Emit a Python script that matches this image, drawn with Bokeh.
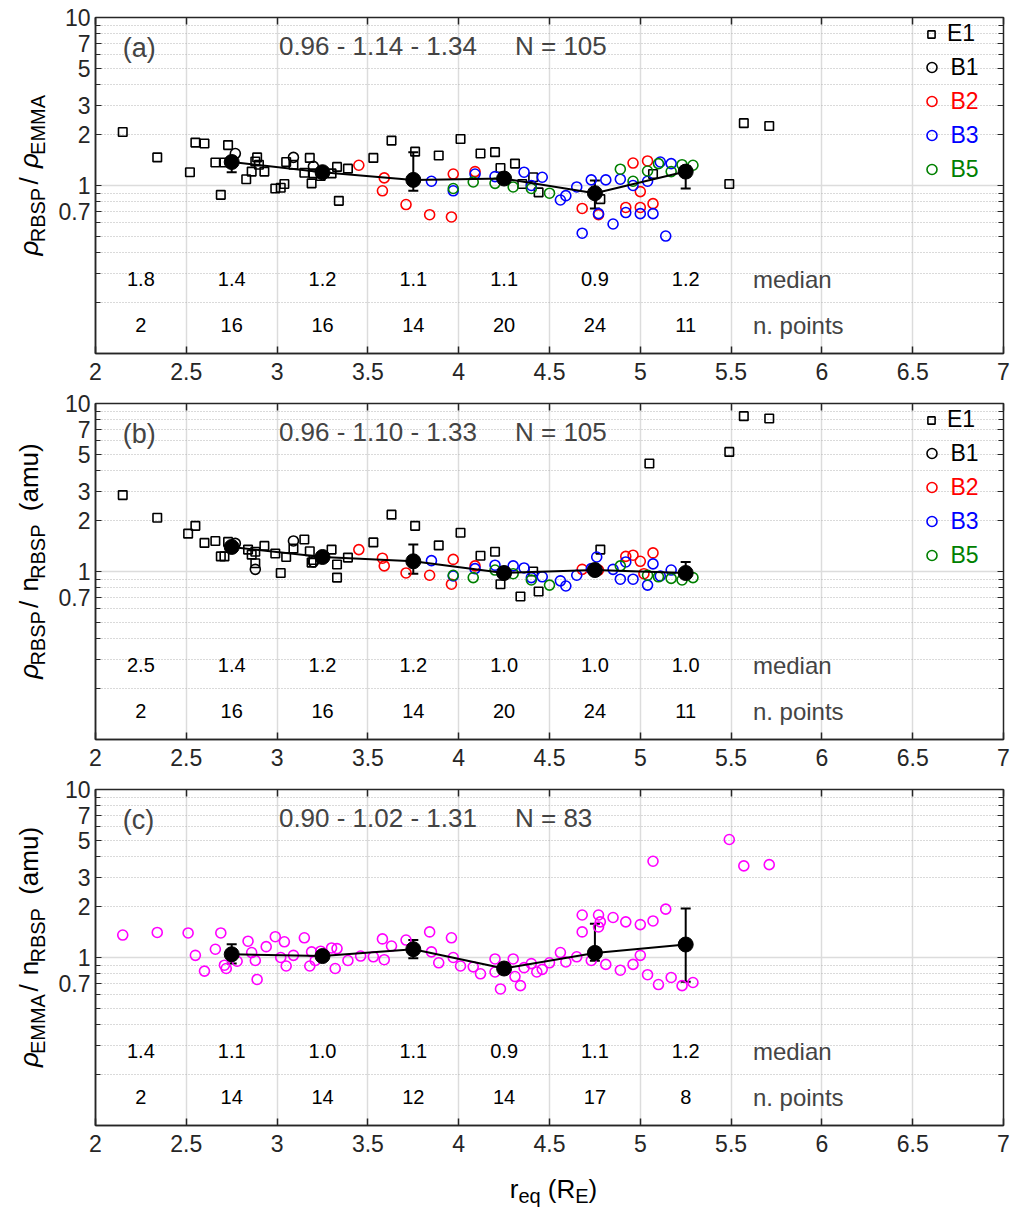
import math
from bokeh.plotting import figure
from bokeh.layouts import column, row
from bokeh.models import (ColumnDataSource, FixedTicker, CustomJSTickFormatter, LogAxis,
                          LinearAxis, Grid, Whisker, TeeHead, Label, Legend, LegendItem, Range1d)
from bokeh.core.properties import value
from bokeh.embed import file_html
from bokeh.resources import INLINE

# ---------------- data ----------------
bin_x = [2.75, 3.25, 3.75, 4.25, 4.75, 5.25]
text_x = [2.25, 2.75, 3.25, 3.75, 4.25, 4.75, 5.25]

# panel (a): rho_RBSP / rho_EMMA
a_E1_x = [2.15, 2.34, 2.55, 2.60, 2.52, 2.73, 2.66, 2.71, 2.69, 2.83, 2.86, 2.89, 2.88, 2.90, 2.93,
          2.99, 3.02, 3.04, 3.05, 3.09, 3.18, 3.15, 3.19, 3.20, 3.24, 3.30, 3.33, 3.39, 3.34, 3.53,
          3.63, 3.76, 3.89, 4.01, 4.12, 4.20, 4.23, 4.31, 4.35, 4.41, 4.44, 4.78, 5.07, 5.57, 5.71, 5.49]
a_E1_y = [2.08, 1.47, 1.80, 1.78, 1.20, 1.74, 1.37, 1.37, 0.88, 1.09, 1.21, 1.47, 1.39, 1.33, 1.21,
          0.96, 0.97, 1.02, 1.38, 1.33, 1.46, 1.19, 1.03, 1.18, 1.14, 1.18, 1.29, 1.26, 0.81, 1.46,
          1.85, 1.59, 1.51, 1.89, 1.55, 1.58, 1.27, 1.35, 1.02, 1.12, 0.91, 0.83, 1.17, 2.35, 2.26, 1.02]
a_B1_x = [2.77, 3.09, 3.20]
a_B1_y = [1.55, 1.47, 1.30]
a_B2_x = [3.45, 3.59, 3.58, 3.71, 3.84, 3.96, 3.97, 4.09, 4.68, 4.77, 4.92, 5.00, 5.07, 4.96, 5.04, 5.00]
a_B2_y = [1.32, 1.11, 0.93, 0.77, 0.67, 0.65, 1.17, 1.21, 0.73, 0.67, 0.74, 0.74, 0.78, 1.36, 1.40, 0.92]
a_B3_x = [3.85, 3.97, 4.09, 4.20, 4.36, 4.46, 4.40, 4.56, 4.59, 4.65, 4.73, 4.81, 4.89, 4.96, 5.04,
          5.11, 5.17, 4.68, 4.85, 4.92, 5.00, 5.07, 5.14, 4.77]
a_B3_y = [1.06, 0.93, 1.17, 1.13, 1.20, 1.12, 1.00, 0.82, 0.87, 0.98, 1.08, 1.08, 1.09, 1.00, 1.06,
          1.38, 1.35, 0.52, 0.59, 0.69, 0.68, 0.68, 0.50, 0.68]
a_B5_x = [3.97, 4.08, 4.20, 4.30, 4.40, 4.50, 4.89, 4.96, 5.04, 5.10, 5.17, 5.23, 5.29]
a_B5_y = [0.96, 1.05, 1.03, 0.98, 0.96, 0.90, 1.25, 1.06, 1.22, 1.35, 1.21, 1.33, 1.32]
a_med_y = [1.38, 1.20, 1.08, 1.10, 0.90, 1.21]
a_err_lo = [1.20, 1.14, 0.93, 1.05, 0.73, 0.96]
a_err_hi = [1.47, 1.26, 1.58, 1.15, 1.07, 1.30]
a_median_txt = ["1.8", "1.4", "1.2", "1.1", "1.1", "0.9", "1.2"]
a_npts_txt = ["2", "16", "16", "14", "20", "24", "11"]
a_stats = "0.96 - 1.14 - 1.34"
a_N = "N = 105"

# panel (b): rho_RBSP / n_RBSP
b_E1_x = [2.15, 2.34, 2.51, 2.55, 2.60, 2.66, 2.73, 2.69, 2.71, 2.84, 2.86, 2.88, 2.88, 2.93, 2.99,
          3.02, 3.05, 3.09, 3.15, 3.18, 3.19, 3.20, 3.30, 3.33, 3.39, 3.33, 3.53, 3.63, 3.76, 3.89,
          4.01, 4.12, 4.20, 4.23, 4.34, 4.44, 4.41, 4.78, 5.05, 5.49, 5.57, 5.71]
b_E1_y = [2.85, 2.09, 1.68, 1.87, 1.48, 1.52, 1.50, 1.23, 1.23, 1.35, 1.26, 1.31, 1.12, 1.42, 1.28,
          0.98, 1.22, 1.37, 1.55, 1.32, 1.13, 1.17, 1.35, 1.10, 1.21, 0.92, 1.49, 2.18, 1.87, 1.43,
          1.70, 1.24, 1.31, 0.84, 0.71, 0.76, 1.00, 1.35, 4.39, 5.15, 8.41, 8.15]
b_B1_x = [2.77, 2.88, 3.09, 3.20]
b_B1_y = [1.47, 1.03, 1.52, 1.14]
b_B2_x = [3.45, 3.58, 3.59, 3.71, 3.84, 3.96, 3.97, 4.09, 4.68, 4.92, 4.96, 5.00, 5.07, 4.77, 5.02]
b_B2_y = [1.35, 1.20, 1.08, 0.98, 0.95, 0.84, 1.18, 1.08, 1.03, 1.23, 1.25, 1.15, 1.29, 1.02, 0.97]
b_B3_x = [3.85, 3.97, 4.09, 4.20, 4.30, 4.36, 4.40, 4.46, 4.56, 4.59, 4.65, 4.73, 4.76, 4.85, 4.89,
          4.92, 4.96, 5.04, 5.07, 5.11, 5.17]
b_B3_y = [1.16, 0.94, 1.04, 1.09, 1.08, 1.05, 0.92, 0.93, 0.88, 0.82, 0.95, 1.04, 1.22, 1.03, 0.90,
          1.14, 0.90, 0.83, 1.11, 0.94, 1.02]
b_B5_x = [3.97, 4.08, 4.20, 4.30, 4.40, 4.50, 4.89, 5.04, 5.10, 5.17, 5.23, 5.29]
b_B5_y = [0.95, 0.92, 1.02, 0.97, 0.89, 0.83, 1.08, 0.95, 0.93, 0.91, 0.89, 0.92]
b_med_y = [1.40, 1.22, 1.15, 0.98, 1.02, 0.98]
b_err_lo = [1.32, 1.15, 0.97, 0.93, 0.96, 0.94]
b_err_hi = [1.48, 1.29, 1.45, 1.04, 1.08, 1.14]
b_median_txt = ["2.5", "1.4", "1.2", "1.2", "1.0", "1.0", "1.0"]
b_npts_txt = ["2", "16", "16", "14", "20", "24", "11"]
b_stats = "0.96 - 1.10 - 1.33"
b_N = "N = 105"

# panel (c): rho_EMMA / n_RBSP
c_x = [2.15, 2.34, 2.51, 2.55, 2.60, 2.66, 2.69, 2.71, 2.72, 2.78, 2.84, 2.86, 2.88, 2.89, 2.94,
       2.99, 3.04, 3.02, 3.05, 3.09, 3.15, 3.19, 3.18, 3.21, 3.24, 3.30, 3.33, 3.32, 3.39, 3.46,
       3.53, 3.59, 3.58, 3.63, 3.71, 3.84, 3.85, 3.89, 3.96, 3.97, 4.01, 4.08, 4.12, 4.20, 4.20,
       4.23, 4.30, 4.31, 4.34, 4.36, 4.40, 4.43, 4.46, 4.50, 4.56, 4.59, 4.65, 4.68, 4.68, 4.73,
       4.77, 4.77, 4.78, 4.81, 4.85, 4.89, 4.92, 4.96, 5.00, 5.00, 5.04, 5.07, 5.07, 5.14, 5.10,
       5.17, 5.23, 5.29, 5.49, 5.57, 5.71]
c_y = [1.36, 1.41, 1.40, 1.03, 0.83, 1.12, 1.40, 0.90, 0.86, 0.95, 1.25, 1.07, 0.96, 0.74, 1.16,
       1.33, 1.24, 1.00, 0.89, 1.03, 1.31, 1.08, 0.89, 0.96, 1.09, 1.14, 1.13, 0.86, 0.96, 1.02,
       1.01, 0.97, 1.29, 1.17, 1.27, 1.42, 1.08, 0.93, 1.31, 1.00, 0.89, 0.88, 0.80, 0.98, 0.82,
       0.65, 0.98, 0.77, 0.68, 0.87, 0.92, 0.82, 0.85, 0.93, 1.07, 0.94, 1.01, 1.79, 1.42, 0.96,
       1.79, 1.52, 1.63, 0.91, 1.73, 0.84, 1.63, 0.91, 1.57, 1.03, 0.79, 1.65, 3.74, 1.94, 0.69,
       0.76, 0.68, 0.71, 5.04, 3.51, 3.57]
c_med_y = [1.045, 1.02, 1.12, 0.86, 1.065, 1.195]
c_err_lo = [0.92, 0.97, 0.99, 0.82, 0.955, 0.716]
c_err_hi = [1.20, 1.07, 1.27, 0.90, 1.59, 1.96]
c_median_txt = ["1.4", "1.1", "1.0", "1.1", "0.9", "1.1", "1.2"]
c_npts_txt = ["2", "14", "14", "12", "14", "17", "8"]
c_stats = "0.90 - 1.02 - 1.31"
c_N = "N = 83"

x_ticks = [2, 2.5, 3, 3.5, 4, 4.5, 5, 5.5, 6, 6.5, 7]
y_ticks = [0.7, 1, 2, 3, 5, 7, 10]
y_minor = [0.2, 0.3, 0.4, 0.5, 0.6, 0.8, 0.9, 4, 6, 8, 9]
y_dotted = [0.2, 0.3, 0.4, 0.5, 0.6, 0.7, 0.8, 0.9, 2, 3, 4, 5, 6, 7, 8, 9]

# ---------------- style ----------------
FONT = "Liberation Sans"
AX = "#262626"
RED, BLUE, GREEN, MAG = "#ff0000", "#0000ff", "#008000", "#ff00ff"
FRAME_W, FRAME_H = 908, 336
LAB_W = 55
MEDIAN_ROW_Y = 0.277
NPTS_ROW_Y = 0.147
LABEL_ROW_X = 5.62

W = {' ': 0.278, '/': 0.278, '(': 0.333, ')': 0.333, 'R': 0.722, 'B': 0.667, 'S': 0.667, 'P': 0.667,
     'E': 0.667, 'M': 0.833, 'A': 0.667, 'n': 0.556, 'a': 0.556, 'm': 0.833, 'u': 0.556, 'e': 0.556,
     'q': 0.556, 'r': 0.333, 'ρ': 0.578}


def tw(s, size):
    return sum(W.get(c, 0.556) for c in s) * size


def label_canvas(w, h):
    q = figure(width=w, height=h, x_range=Range1d(0, w), y_range=Range1d(0, h),
               output_backend="svg", toolbar_location=None, x_axis_location=None,
               y_axis_location=None, min_border=0)
    q.outline_line_color = None
    q.xgrid.visible = False
    q.ygrid.visible = False
    q.background_fill_color = "white"
    q.border_fill_color = "white"
    return q


def rich(q, pieces, center, cross, vertical):
    total = sum(g * s + tw(t, s) for t, s, sh, it, g in pieces)
    pos = center - total / 2
    for t, s, sh, it, g in pieces:
        pos += g * s
        kw = dict(text=t, text_font=FONT, text_font_size=f"{s}px", text_color="black",
                  text_font_style="italic" if it else "normal",
                  text_align="left", text_baseline="alphabetic")
        if vertical:
            lab = Label(x=cross + sh, y=pos, angle=math.pi / 2, **kw)
        else:
            lab = Label(x=pos, y=cross - sh, **kw)
        q.add_layout(lab)
        pos += tw(t, s)


def make_fig(top, bottom):
    p = figure(frame_width=FRAME_W, frame_height=FRAME_H, x_range=Range1d(2, 7),
               y_range=Range1d(0.1, 10), y_axis_type="log", output_backend="svg",
               toolbar_location=None, min_border_left=95 - LAB_W, min_border_right=32,
               min_border_top=top, min_border_bottom=bottom)
    p.background_fill_color = "white"
    p.border_fill_color = "white"
    p.outline_line_color = AX
    p.outline_line_width = 1.5

    xa = p.xaxis[0]
    xa.ticker = FixedTicker(ticks=x_ticks)
    xa.formatter = CustomJSTickFormatter(code="return tick.toString();")
    xa.major_tick_in = 7
    xa.major_tick_out = 0
    xa.minor_tick_line_color = None
    xa.axis_line_color = AX
    xa.axis_line_width = 1.5
    xa.major_tick_line_color = AX
    xa.major_tick_line_width = 1.5
    xa.major_label_text_font = FONT
    xa.major_label_text_font_size = "23px"
    xa.major_label_text_color = AX
    xa.major_label_standoff = 9

    ya = p.yaxis[0]
    ya.ticker = FixedTicker(ticks=y_ticks, minor_ticks=y_minor)
    ya.formatter = CustomJSTickFormatter(code="return tick.toString();")
    ya.major_tick_in = 6
    ya.major_tick_out = 0
    ya.minor_tick_in = 5
    ya.minor_tick_out = 0
    ya.axis_line_color = AX
    ya.axis_line_width = 1.5
    ya.major_tick_line_color = AX
    ya.minor_tick_line_color = AX
    ya.major_label_text_font = FONT
    ya.major_label_text_font_size = "23px"
    ya.major_label_text_color = AX
    ya.major_label_standoff = 5

    ra = LogAxis(ticker=FixedTicker(ticks=y_ticks, minor_ticks=y_minor), major_tick_in=6,
                 major_tick_out=0, minor_tick_in=5, minor_tick_out=0, axis_line_color=AX,
                 major_tick_line_color=AX, minor_tick_line_color=AX,
                 major_label_text_color=None, major_label_standoff=0)
    p.add_layout(ra, "right")
    ta = LinearAxis(ticker=FixedTicker(ticks=x_ticks), major_tick_in=7, major_tick_out=0,
                    minor_tick_line_color=None, axis_line_color=AX, major_tick_line_color=AX,
                    major_tick_line_width=1.5, major_label_text_color=None,
                    major_label_standoff=0)
    p.add_layout(ta, "above")

    p.xgrid.grid_line_color = "#dcdcdc"
    p.xgrid.grid_line_width = 1.5
    p.ygrid.visible = False
    p.add_layout(Grid(dimension=1, ticker=FixedTicker(ticks=[1]), grid_line_color="#dcdcdc",
                      grid_line_width=1.5))
    p.add_layout(Grid(dimension=1, ticker=FixedTicker(ticks=y_dotted), grid_line_color="#b4b4b4",
                      grid_line_width=1, grid_line_dash="1 2"))
    return p


def add_common(p, letter, med_y, lo, hi, med_txt, npts_txt, stats, ntxt):
    src = ColumnDataSource(dict(x=bin_x, y=med_y, lo=lo, hi=hi))
    p.add_layout(Whisker(base="x", upper="hi", lower="lo", source=src, dimension="height",
                         line_color="black", line_width=2,
                         upper_head=TeeHead(size=10, line_width=2, line_color="black"),
                         lower_head=TeeHead(size=10, line_width=2, line_color="black")))
    p.line("x", "y", source=src, line_color="black", line_width=2)
    p.scatter("x", "y", source=src, size=15, marker="circle", fill_color="black", line_color="black")

    tsrc = ColumnDataSource(dict(x=text_x, m=med_txt, n=npts_txt,
                                 ym=[MEDIAN_ROW_Y] * len(text_x), yn=[NPTS_ROW_Y] * len(text_x)))
    p.text("x", "ym", text="m", source=tsrc, text_font=value(FONT), text_font_size="20px",
           text_align="center", text_baseline="middle", text_color="black")
    p.text("x", "yn", text="n", source=tsrc, text_font=value(FONT), text_font_size="20px",
           text_align="center", text_baseline="middle", text_color="black")
    p.add_layout(Label(x=LABEL_ROW_X, y=MEDIAN_ROW_Y, text="median", text_font=FONT,
                       text_font_size="24px", text_baseline="middle", text_align="left"))
    p.add_layout(Label(x=LABEL_ROW_X, y=NPTS_ROW_Y, text="n. points", text_font=FONT,
                       text_font_size="24px", text_baseline="middle", text_align="left"))
    p.add_layout(Label(x=2.15, y=6.6, text=letter, text_font=FONT, text_font_size="27px",
                       text_baseline="middle", text_align="left"))
    p.add_layout(Label(x=3.01, y=6.8, text=stats, text_font=FONT, text_font_size="26px",
                       text_baseline="middle", text_align="left"))
    p.add_layout(Label(x=4.31, y=6.8, text=ntxt, text_font=FONT, text_font_size="26px",
                       text_baseline="middle", text_align="left"))


def add_series(p, sets):
    rows = [16.5, 50, 84, 118, 152]
    for i, (name, xs, ys, marker, color) in enumerate(sets):
        s = ColumnDataSource(dict(x=xs, y=ys))
        if marker == "square":
            r = p.scatter("x", "y", source=s, marker="square", size=8.5, fill_color=None,
                          line_color=color, line_width=1.6)
            gw = 18
        else:
            r = p.scatter("x", "y", source=s, marker="circle", size=10, fill_color=None,
                          line_color=color, line_width=1.6)
            gw = 25
        left = 931 - 95 - gw / 2
        leg = Legend(items=[LegendItem(label=name, renderers=[r])],
                     location=(left, FRAME_H - rows[i] - 15), padding=0, margin=0, spacing=0,
                     glyph_width=gw, glyph_height=30, label_height=30, label_standoff=7,
                     label_text_font=FONT, label_text_font_size="23px", label_text_color=color,
                     border_line_color=None, background_fill_alpha=0)
        p.add_layout(leg)


MAIN_BASE = 28   # x (px) of the rotated label baseline inside the label strip
SUB_SHIFT = 9
GAP = 0.45

# ---------- panel a ----------
TOP_A, BOT_A = 17, 32
pa = make_fig(TOP_A, BOT_A)
add_series(pa, [("E1", a_E1_x, a_E1_y, "square", "black"),
                ("B1", a_B1_x, a_B1_y, "circle", "black"),
                ("B2", a_B2_x, a_B2_y, "circle", RED),
                ("B3", a_B3_x, a_B3_y, "circle", BLUE),
                ("B5", a_B5_x, a_B5_y, "circle", GREEN)])
add_common(pa, "(a)", a_med_y, a_err_lo, a_err_hi, a_median_txt, a_npts_txt, a_stats, a_N)
ha = TOP_A + FRAME_H + BOT_A
la = label_canvas(LAB_W, ha)
rich(la, [("ρ", 26, 0, True, 0), ("RBSP", 20, SUB_SHIFT, False, 0), ("/", 26, 0, False, GAP),
          ("ρ", 26, 0, True, GAP), ("EMMA", 20, SUB_SHIFT, False, 0)],
     BOT_A + FRAME_H / 2, MAIN_BASE, True)

# ---------- panel b ----------
TOP_B, BOT_B = 18, 32
pb = make_fig(TOP_B, BOT_B)
add_series(pb, [("E1", b_E1_x, b_E1_y, "square", "black"),
                ("B1", b_B1_x, b_B1_y, "circle", "black"),
                ("B2", b_B2_x, b_B2_y, "circle", RED),
                ("B3", b_B3_x, b_B3_y, "circle", BLUE),
                ("B5", b_B5_x, b_B5_y, "circle", GREEN)])
add_common(pb, "(b)", b_med_y, b_err_lo, b_err_hi, b_median_txt, b_npts_txt, b_stats, b_N)
hb = TOP_B + FRAME_H + BOT_B
lb = label_canvas(LAB_W, hb)
rich(lb, [("ρ", 26, 0, True, 0), ("RBSP", 20, SUB_SHIFT, False, 0), ("/", 26, 0, False, GAP),
          ("n", 26, 0, False, GAP), ("RBSP", 20, SUB_SHIFT, False, 0), ("(amu)", 26, 0, False, 0.9)],
     BOT_B + FRAME_H / 2, MAIN_BASE, True)

# ---------- panel c ----------
TOP_C, BOT_C = 18, 32
pc = make_fig(TOP_C, BOT_C)
sc = ColumnDataSource(dict(x=c_x, y=c_y))
pc.scatter("x", "y", source=sc, marker="circle", size=10, fill_color=None, line_color=MAG,
           line_width=1.6)
add_common(pc, "(c)", c_med_y, c_err_lo, c_err_hi, c_median_txt, c_npts_txt, c_stats, c_N)
hc = TOP_C + FRAME_H + BOT_C
lc = label_canvas(LAB_W, hc)
rich(lc, [("ρ", 26, 0, True, 0), ("EMMA", 20, SUB_SHIFT, False, 0), ("/", 26, 0, False, GAP),
          ("n", 26, 0, False, GAP), ("RBSP", 20, SUB_SHIFT, False, 0), ("(amu)", 26, 0, False, 0.9)],
     BOT_C + FRAME_H / 2, MAIN_BASE, True)

# ---------- x label strip ----------
XL_H = 1209 - (ha + hb + hc)
lx = label_canvas(1035, XL_H)
rich(lx, [("r", 26, 0, False, 0), ("eq", 20, 7, False, 0), ("(", 26, 0, False, 0.278),
          ("R", 26, 0, False, 0), ("E", 20, 7, False, 0), (")", 26, 0, False, 0)],
     95 + FRAME_W / 2 + 4, XL_H - 31, False)

layout = column(row(la, pa, spacing=0), row(lb, pb, spacing=0), row(lc, pc, spacing=0), lx,
                spacing=0)
open("out.html", "w").write(file_html(layout, INLINE))
